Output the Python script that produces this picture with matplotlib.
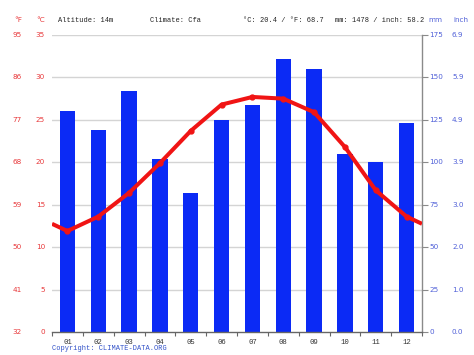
import matplotlib
matplotlib.use("Agg")
import matplotlib.pyplot as plt
import matplotlib.transforms as mtransforms
import numpy as np

months = ["01", "02", "03", "04", "05", "06", "07", "08", "09", "10", "11", "12"]
precip_mm = [130, 119, 142, 102, 82, 125, 134, 161, 155, 105, 100, 123]
temp_c = [11.9, 13.6, 16.4, 19.9, 23.7, 26.8, 27.7, 27.5, 25.9, 21.8, 16.7, 13.6]
c_ticks = [0, 5, 10, 15, 20, 25, 30, 35]
f_ticks = ["32", "41", "50", "59", "68", "77", "86", "95"]
mm_ticks = [0, 25, 50, 75, 100, 125, 150, 175]
inch_ticks = ["0.0", "1.0", "2.0", "3.0", "3.9", "4.9", "5.9", "6.9"]
header = ["Altitude: 14m", "Climate: Cfa", "°C: 20.4 / °F: 68.7", "mm: 1478 / inch: 58.2"]

W, H = 474, 355
fig = plt.figure(figsize=(W / 100, H / 100), dpi=100)
L, R, B, T = 52, 422, 332, 35
ax = fig.add_axes([L / W, (H - B) / H, (R - L) / W, (B - T) / H])
ax2 = ax.twinx()

red = "#e8383a"
blue_lbl = "#5060d8"
mono = "Liberation Mono"

x = np.arange(len(months))
# bars (mm) on primary axes
ax.bar(x, precip_mm, width=0.5, color="#0b2af5", zorder=2)
ax.set_ylim(0, 175)
ax.set_xlim(-0.5, 11.5)
for c in c_ticks[1:]:
    ax.axhline(c * 5, color="#d4d4d4", lw=1.0, zorder=1)

# temperature line on twin axes
edge = (temp_c[0] + temp_c[-1]) / 2
lx = np.concatenate([[-0.5], x, [11.5]])
ly = np.concatenate([[edge], temp_c, [edge]])
ax2.plot(lx, ly, color="#f01414", lw=2.9, solid_joinstyle="round", solid_capstyle="butt", zorder=3)
ax2.plot(x, temp_c, "o", color="#f01414", ms=3.5, zorder=4)
ax2.set_ylim(0, 35)
ax2.set_xlim(-0.5, 11.5)

for a in (ax, ax2):
    for s in ("top", "left"):
        a.spines[s].set_visible(False)
    a.set_yticks([])
    a.set_xticks([])
ax2.spines["right"].set_visible(False)
ax2.spines["bottom"].set_visible(False)
ax.spines["right"].set_color("#8a8a8a")
ax.spines["bottom"].set_color("#666666")
ax.spines["right"].set_linewidth(1.0)
ax.spines["bottom"].set_linewidth(1.0)

# bottom ticks at slot boundaries
ax.set_xticks(np.arange(-0.5, 12, 1.0), minor=False)
ax.set_xticklabels([])
ax.tick_params(axis="x", length=3, color="#666666", direction="out")
ax.yaxis.tick_right()
ax.set_yticks(mm_ticks)
ax.set_yticklabels([])
ax.tick_params(axis="y", length=4, color="#8a8a8a", direction="out")

# month labels
for i, m in enumerate(months):
    ax.text(i, -6, m, ha="center", va="center", fontsize=5.2, family=mono, color="#333333")

# left labels
tl = mtransforms.blended_transform_factory(fig.transFigure, ax2.transData)
for c, f in zip(c_ticks, f_ticks):
    ax2.text(45 / W, c, str(c), transform=tl, ha="right", va="center", fontsize=5.2, color=red)
    ax2.text(22 / W, c, f, transform=tl, ha="right", va="center", fontsize=5.2, color=red)
tr = mtransforms.blended_transform_factory(fig.transFigure, ax.transData)
for mm, inch in zip(mm_ticks, inch_ticks):
    ax.text(429 / W, mm, str(mm), transform=tr, ha="left", va="center", fontsize=5.2, color=blue_lbl)
    ax.text(452 / W, mm, inch, transform=tr, ha="left", va="center", fontsize=5.2, color=blue_lbl)

# header
hy = 1 - 20 / H
fig.text(18 / W, hy, "°F", ha="center", va="center", fontsize=5.2, color=red)
fig.text(41 / W, hy, "°C", ha="center", va="center", fontsize=5.2, color=red)
for xp, t in zip([58, 150, 243, 335], header):
    fig.text(xp / W, hy, t, ha="left", va="center", fontsize=5.0, family=mono, color="#222222")
fig.text(428 / W, hy, "mm", ha="left", va="center", fontsize=5.2, color=blue_lbl)
fig.text(453 / W, hy, "inch", ha="left", va="center", fontsize=5.2, color=blue_lbl)

fig.text(52 / W, 1 - 348 / H, "Copyright: CLIMATE-DATA.ORG", ha="left", va="center",
         fontsize=5.0, family=mono, color="#3050c8")

fig.savefig("out.png", dpi=100)
